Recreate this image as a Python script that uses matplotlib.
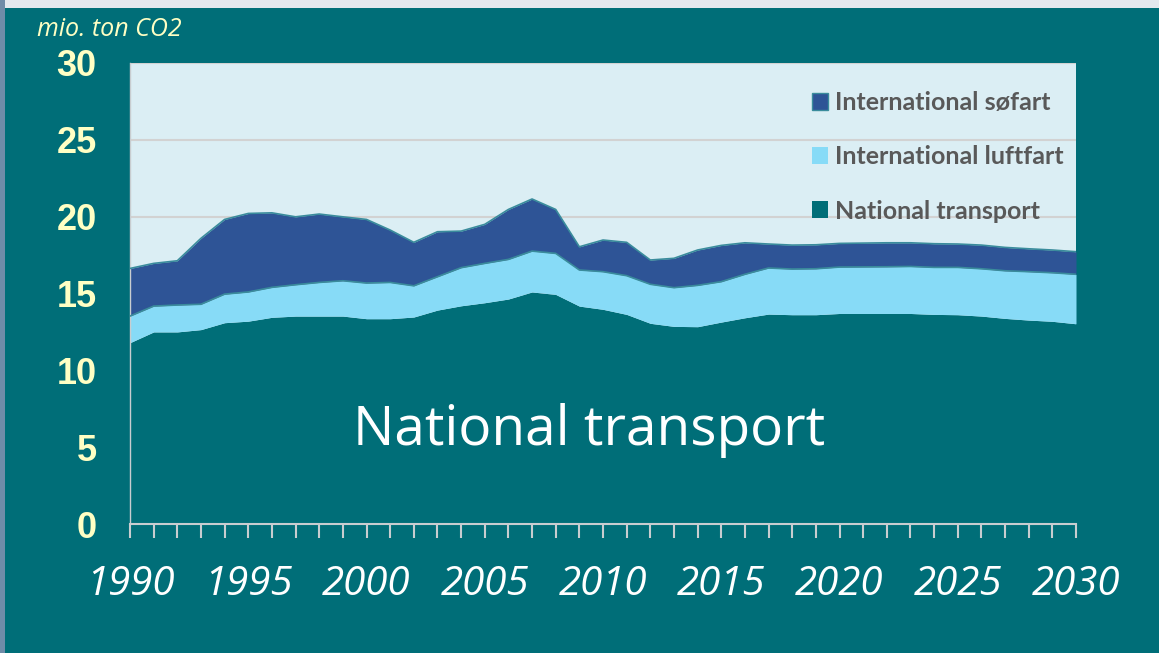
import matplotlib
matplotlib.use("Agg")
import matplotlib.pyplot as plt
import matplotlib.patches as patches
from matplotlib.patches import Patch

# stacked levels (mio. ton CO2)
years = list(range(1990, 2031))
national = [11.8, 12.5, 12.5, 12.65, 13.1, 13.2, 13.45, 13.53, 13.53, 13.53,
            13.36, 13.36, 13.47, 13.92, 14.2, 14.4, 14.64, 15.1, 14.94, 14.18,
            13.97, 13.64, 13.06, 12.86, 12.84, 13.14, 13.42, 13.66, 13.62, 13.62,
            13.7, 13.7, 13.7, 13.7, 13.64, 13.62, 13.53, 13.38, 13.27, 13.19, 13.03]
with_luftfart = [13.53, 14.18, 14.25, 14.3, 14.96, 15.1, 15.4, 15.57, 15.72, 15.83,
                 15.68, 15.72, 15.5, 16.09, 16.68, 16.96, 17.22, 17.76, 17.61, 16.53,
                 16.42, 16.16, 15.6, 15.38, 15.53, 15.77, 16.25, 16.66, 16.59, 16.61,
                 16.72, 16.73, 16.74, 16.76, 16.7, 16.7, 16.61, 16.48, 16.42, 16.35, 16.25]
total = [16.63, 16.96, 17.13, 18.59, 19.82, 20.21, 20.25, 19.99, 20.17, 19.99,
         19.82, 19.13, 18.33, 19.02, 19.06, 19.5, 20.47, 21.15, 20.47, 18.04,
         18.48, 18.33, 17.18, 17.29, 17.83, 18.13, 18.3, 18.22, 18.15, 18.17,
         18.26, 18.28, 18.3, 18.3, 18.24, 18.22, 18.15, 18.0, 17.91, 17.83, 17.72]

labels = ["International søfart", "International luftfart", "National transport"]
yticks = [0, 5, 10, 15, 20, 25, 30]

BG = "#006E78"
C_NAT = "#006E78"
C_LUFT = "#87DBF7"
C_SO = "#2E5496"
EDGE = "#3A8C9C"
YELLOW = "#FFFFC4"

fig = plt.figure(figsize=(11.59, 6.53), dpi=100)
fig.patch.set_facecolor(BG)

# light frame around the slide
fig.add_artist(patches.Rectangle((0, 1 - 8 / 653), 1, 8 / 653, transform=fig.transFigure,
                                 facecolor="#E3E8EE", edgecolor="none"))
fig.add_artist(patches.Rectangle((0, 0), 5 / 1159, 1, transform=fig.transFigure,
                                 facecolor="#6F8CA8", edgecolor="none"))

ax = fig.add_axes([130 / 1159, 129 / 653, 946 / 1159, 461 / 653])
ax.set_facecolor("#DBEEF4")

ax.fill_between(years, 0, national, color=C_NAT, lw=0, zorder=2)
ax.fill_between(years, national, with_luftfart, color=C_LUFT, lw=0, zorder=2)
ax.fill_between(years, with_luftfart, total, color=C_SO, lw=0, zorder=2)
ax.plot(years, with_luftfart, color=EDGE, lw=1.2, zorder=3)
ax.plot(years, total, color=EDGE, lw=1.2, zorder=3)

ax.set_xlim(1990, 2030)
ax.set_ylim(0, 30)
ax.set_yticks(yticks)
ax.set_yticklabels([str(v) for v in yticks])
ax.yaxis.grid(True, color="#D2D2D2", lw=1.5, zorder=1)
ax.set_axisbelow(True)

ax.set_xticks(years)
ax.set_xticklabels([str(y) if y % 5 == 0 else "" for y in years])

for side in ["top", "right"]:
    ax.spines[side].set_visible(False)
ax.spines["left"].set_color("#C8CDD0")
ax.spines["bottom"].set_color("#C8CDD0")
ax.spines["left"].set_linewidth(1)
ax.spines["bottom"].set_linewidth(1.5)

ax.tick_params(axis="y", length=0, pad=24, labelsize=26, labelcolor=YELLOW)
ax.tick_params(axis="x", length=10, width=1.5, color="#C8CDD0", direction="out",
               pad=19, labelsize=29, labelcolor="white")
for t in ax.get_yticklabels():
    t.set_fontfamily("Liberation Sans")
    t.set_fontweight("bold")
for t in ax.get_xticklabels():
    t.set_fontfamily("Open Sans")
    t.set_fontstyle("italic")

fig.text(37 / 1159, 1 - 29 / 653, "mio. ton CO2", color=YELLOW, fontsize=18,
         family="Open Sans", style="italic", va="center", ha="left")

ax.text(0.485, 0.171, "National transport", transform=ax.transAxes, color="white",
        fontsize=39.5, family="Open Sans", ha="center", va="baseline", zorder=4)

handles = [Patch(facecolor=C_SO, edgecolor=EDGE, lw=1),
           Patch(facecolor=C_LUFT, edgecolor="none"),
           Patch(facecolor=C_NAT, edgecolor="none")]
leg = ax.legend(handles, labels, loc="upper left", bbox_to_anchor=(0.697, 0.988),
                frameon=False, handlelength=0.66, handleheight=0.66, handletextpad=0.25,
                labelspacing=1.25, prop={"family": "Lato", "weight": "bold", "size": 18})
for t in leg.get_texts():
    t.set_color("#595959")

fig.savefig("out.png", dpi=100, facecolor=fig.get_facecolor())
